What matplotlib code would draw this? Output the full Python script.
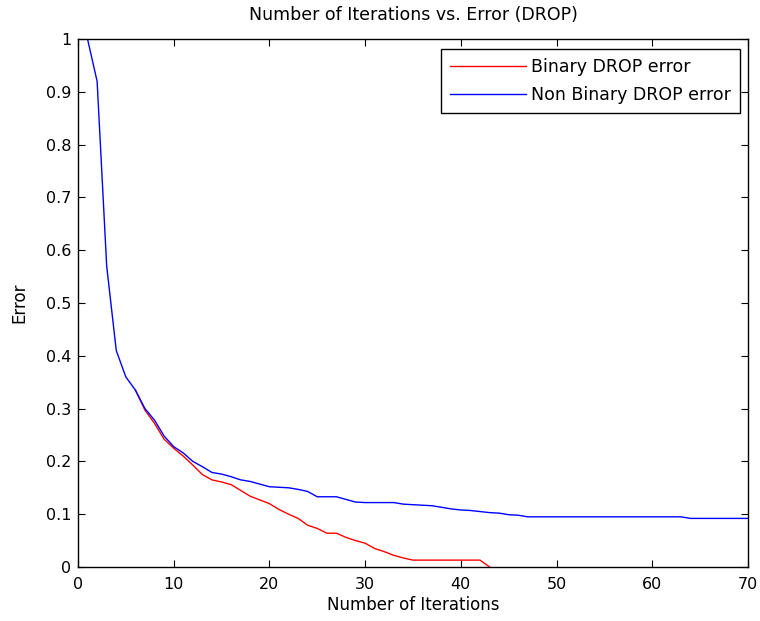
import numpy as np
import matplotlib
matplotlib.use("Agg")
import matplotlib.pyplot as plt

plt.rcParams['font.family'] = ['DejaVu Sans']

# error per iteration
iters_nonbin = np.arange(1, 71)
err_nonbin = [1.0, 0.92, 0.57, 0.41, 0.36, 0.335, 0.30, 0.278, 0.248, 0.228,
              0.216, 0.200, 0.190, 0.179, 0.176, 0.171, 0.165, 0.162, 0.157, 0.152,
              0.151, 0.150, 0.147, 0.143, 0.133, 0.133, 0.133, 0.128, 0.123, 0.122,
              0.122, 0.122, 0.122, 0.119, 0.118, 0.117, 0.116, 0.113, 0.110, 0.108,
              0.107, 0.105, 0.103, 0.102, 0.099, 0.098, 0.095, 0.095, 0.095, 0.095,
              0.095, 0.095, 0.095, 0.095, 0.095, 0.095, 0.095, 0.095, 0.095, 0.095,
              0.095, 0.095, 0.095, 0.092, 0.092, 0.092, 0.092, 0.092, 0.092, 0.092]

iters_bin = np.arange(6, 44)
err_bin = [0.335, 0.297, 0.272, 0.242, 0.225,
           0.210, 0.193, 0.175, 0.165, 0.161, 0.156, 0.145, 0.134, 0.127, 0.120,
           0.109, 0.100, 0.092, 0.079, 0.073, 0.064, 0.064, 0.056, 0.050, 0.045,
           0.035, 0.029, 0.022, 0.017, 0.013, 0.013, 0.013, 0.013, 0.013, 0.013,
           0.013, 0.013, 0.0]

fig = plt.figure(figsize=(7.6, 6.21), dpi=100)
ax = fig.add_axes([0.1026, 0.087, 0.8816, 0.850])

ax.plot(iters_bin, err_bin, color='red', lw=1.0, label='Binary DROP error')
ax.plot(iters_nonbin, err_nonbin, color='blue', lw=1.0, label='Non Binary DROP error')

ax.set_xlim(0, 70)
ax.set_ylim(0, 1)
ax.set_xticks(np.arange(0, 71, 10))
ax.set_yticks(np.arange(0, 1.01, 0.1))
ax.set_yticklabels(['0', '0.1', '0.2', '0.3', '0.4', '0.5', '0.6', '0.7', '0.8', '0.9', '1'])
ax.tick_params(direction='in', top=True, right=True, labelsize=11.5, length=5)
ax.tick_params(axis='x', pad=7)
ax.tick_params(axis='y', pad=5)
for s in ax.spines.values():
    s.set_linewidth(1.0)

ax.set_xlabel('Number of Iterations', fontsize=12, labelpad=3)
ax.set_ylabel('Error', fontsize=12, labelpad=12)
ax.set_title('Number of Iterations vs. Error (DROP)', fontsize=12.5, pad=14)

leg = ax.legend(loc='upper right', bbox_to_anchor=(0.988, 0.981), borderaxespad=0,
                fontsize=12.5, fancybox=False, framealpha=1, edgecolor='black',
                borderpad=0.5, labelspacing=0.6, handlelength=4.4, handletextpad=0.3)
leg.get_frame().set_linewidth(1.0)

fig.savefig('out.png', dpi=100)
